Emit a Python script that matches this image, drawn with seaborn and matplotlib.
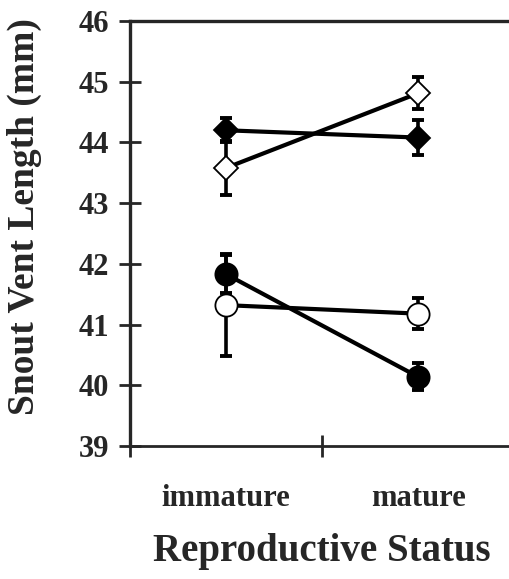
import numpy as np
import pandas as pd
import seaborn as sns
import matplotlib.pyplot as plt

status = ['immature', 'mature']
series = ['filled diamond', 'open diamond', 'filled circle', 'open circle']
svl_filled_diamond = [44.20, 44.08]
svl_open_diamond = [43.58, 44.81]
svl_filled_circle = [41.83, 40.14]
svl_open_circle = [41.32, 41.18]
se_filled_diamond = [0.20, 0.29]
se_open_diamond = [0.45, 0.26]
se_filled_circle = [0.31, 0.22]
se_open_circle = [0.84, 0.25]

means = [svl_filled_diamond, svl_open_diamond, svl_filled_circle, svl_open_circle]
errs = [se_filled_diamond, se_open_diamond, se_filled_circle, se_open_circle]
xpos = [0.5, 1.5]

rows = []
for s, m, e in zip(series, means, errs):
    for i, st in enumerate(status):
        rows.append({'series': s, 'status': st, 'x': xpos[i], 'svl': m[i], 'se': e[i]})
df = pd.DataFrame(rows)

sns.set_style('ticks')
plt.rcParams['font.family'] = ['Liberation Serif', 'DejaVu Serif']
plt.rcParams['font.weight'] = 'bold'

fig = plt.figure(figsize=(5.09, 5.79), dpi=100)
ax = fig.add_axes([130 / 509, 133 / 579, 1 - 130 / 509 + 0.01, 425 / 579])

styles = {
    'filled diamond': dict(marker='D', mfc='black', ms=12.5),
    'open diamond': dict(marker='D', mfc='white', ms=12.5),
    'filled circle': dict(marker='o', mfc='black', ms=16),
    'open circle': dict(marker='o', mfc='white', ms=16),
}

for s in series:
    d = df[df['series'] == s]
    ax.errorbar(d['x'], d['svl'], yerr=d['se'], fmt='none', ecolor='black',
                elinewidth=2.6, capsize=4.5, capthick=2.8, zorder=2)
for s in series:
    d = df[df['series'] == s]
    st = styles[s]
    sns.lineplot(data=d, x='x', y='svl', ax=ax, color='black', linewidth=3,
                 marker=st['marker'], markersize=st['ms'],
                 markerfacecolor=st['mfc'], markeredgecolor='black',
                 markeredgewidth=1.3, zorder=3, legend=False)

ax.set_xlim(0, 2)
ax.set_ylim(39, 46)
ax.set_yticks(np.arange(39, 47, 1))
ax.set_xticks(xpos)
ax.set_xticklabels(status, fontsize=22, fontweight='bold')
ax.set_xticks([0, 1, 2], minor=True)
ax.tick_params(axis='x', which='major', length=0, pad=27)
ax.tick_params(axis='x', which='minor', direction='inout', length=16.5, width=2)
ax.tick_params(axis='y', direction='inout', length=16.5, width=2, pad=7, labelsize=22)
for lab in ax.get_yticklabels():
    lab.set_fontweight('bold')

ax.spines['right'].set_visible(False)
for sp in ['left', 'top']:
    ax.spines[sp].set_linewidth(2.4)
ax.spines['bottom'].set_linewidth(2.0)

ax.set_xlabel('Reproductive Status', fontsize=28, fontweight='bold', labelpad=15)
ax.set_ylabel('Snout Vent Length (mm)', fontsize=27, fontweight='bold')
ax.yaxis.set_label_coords(-0.229, 0.539)

fig.savefig('out.png', dpi=100)
